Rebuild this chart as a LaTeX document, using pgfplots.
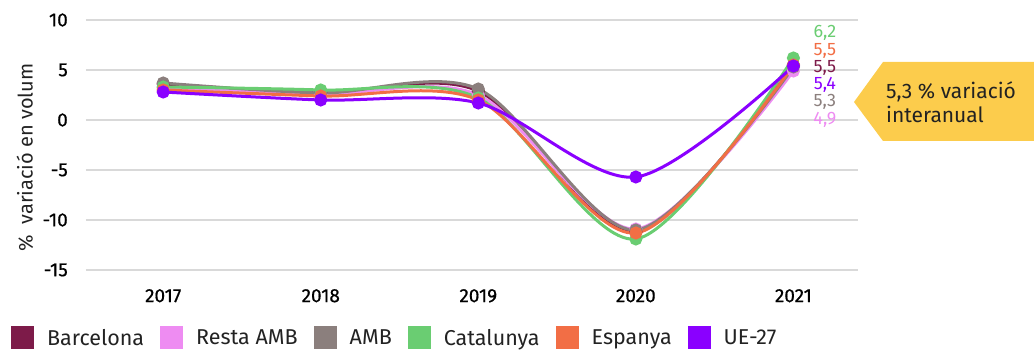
\documentclass[border=0pt]{standalone}
\usepackage{fontspec}
\setmainfont{Fira Sans}
\usepackage{pgfplots}
\pgfplotsset{compat=1.18}
\definecolor{cBcn}{HTML}{7D1B49}
\definecolor{cResta}{HTML}{EE8CF2}
\definecolor{cAmb}{HTML}{8B7F7D}
\definecolor{cCat}{HTML}{6ACD72}
\definecolor{cEsp}{HTML}{F26E45}
\definecolor{cUe}{HTML}{8A00FF}
\definecolor{cYel}{HTML}{FCCC4C}
\definecolor{cGrid}{HTML}{D9D9D9}
\definecolor{cTxt}{HTML}{222222}
\begin{document}
\begin{tikzpicture}
\path[use as bounding box] (-86pt,-80pt) rectangle (948pt,270pt);
\begin{axis}[
  scale only axis,
  width=772pt, height=250pt,
  xmin=2016.51, xmax=2021.41,
  ymin=-15, ymax=10,
  xtick={2017,2018,2019,2020,2021},
  xticklabels={2017,2018,2019,2020,2021},
  ytick={-15,-10,-5,0,5,10},
  yticklabels={-15,-10,-5,0,5,10},
  axis line style={draw=none},
  major tick length=0pt,
  ymajorgrids,
  grid style={cGrid, line width=2.5pt},
  tick label style={font=\fontsize{19}{21}\selectfont\addfontfeatures{FakeBold=0.6}, text=black},
  xticklabel style={anchor=north, inner sep=0pt, yshift=-19pt},
  yticklabel style={anchor=east, inner sep=0pt, xshift=-18pt},
  ylabel={\%\ \ variació en volum},
  ylabel style={font=\fontsize{20}{22}\selectfont, text=cTxt, at={(axis description cs:-0.079,0.45)}, anchor=center},
  every axis plot/.append style={line width=3pt, smooth, mark=*, mark size=5pt},
  legend image code/.code={\fill (0pt,-10pt) rectangle (20pt,10pt);},
  legend style={at={(axis description cs:-0.097,-0.272)}, anchor=west, draw=none, fill=none,
    legend columns=-1, inner sep=0pt, outer sep=0pt,
    font=\fontsize{21.5}{24}\selectfont, text=cTxt,
    /tikz/every odd column/.append style={column sep=11pt},
    /tikz/every even column/.append style={column sep=14pt}},
  clip=false,
]
\addplot[color=cBcn] coordinates {(2017,3.6) (2018,2.7) (2019,2.9) (2020,-11.2) (2021,5.5)};
\addlegendentry{Barcelona}
\addplot[color=cResta] coordinates {(2017,3.2) (2018,2.6) (2019,2.5) (2020,-10.9) (2021,4.9)};
\addlegendentry{Resta AMB}
\addplot[color=cAmb] coordinates {(2017,3.7) (2018,2.7) (2019,3.1) (2020,-11.0) (2021,5.3)};
\addlegendentry{AMB}
\addplot[color=cCat] coordinates {(2017,3.3) (2018,3.0) (2019,2.2) (2020,-11.9) (2021,6.2)};
\addlegendentry{Catalunya}
\addplot[color=cEsp] coordinates {(2017,3.0) (2018,2.4) (2019,2.0) (2020,-11.3) (2021,5.5)};
\addlegendentry{Espanya}
\addplot[color=cUe] coordinates {(2017,2.8) (2018,2.0) (2019,1.7) (2020,-5.7) (2021,5.4)};
\addlegendentry{UE-27}
\begin{scope}[every node/.style={font=\fontsize{18}{20}\selectfont, inner sep=0pt}]
\node[text=cCat] at (axis cs:2021.2,8.7) {6,2};
\node[text=cEsp] at (axis cs:2021.2,6.9) {5,5};
\node[text=cBcn] at (axis cs:2021.2,5.2) {5,5};
\node[text=cUe] at (axis cs:2021.2,3.5) {5,4};
\node[text=cAmb] at (axis cs:2021.2,1.8) {5,3};
\node[text=cResta] at (axis cs:2021.2,0.0) {4,9};
\end{scope}
\end{axis}
\fill[cYel] (768pt,168pt) -- (797pt,208pt) -- (948pt,208pt) -- (948pt,129pt) -- (797pt,129pt) -- cycle;
\node[anchor=west, align=left, inner sep=0pt, text=cTxt, font=\fontsize{21}{24}\selectfont] at (800pt,168pt) {5,3 \% variació\\interanual};
\end{tikzpicture}
\end{document}
